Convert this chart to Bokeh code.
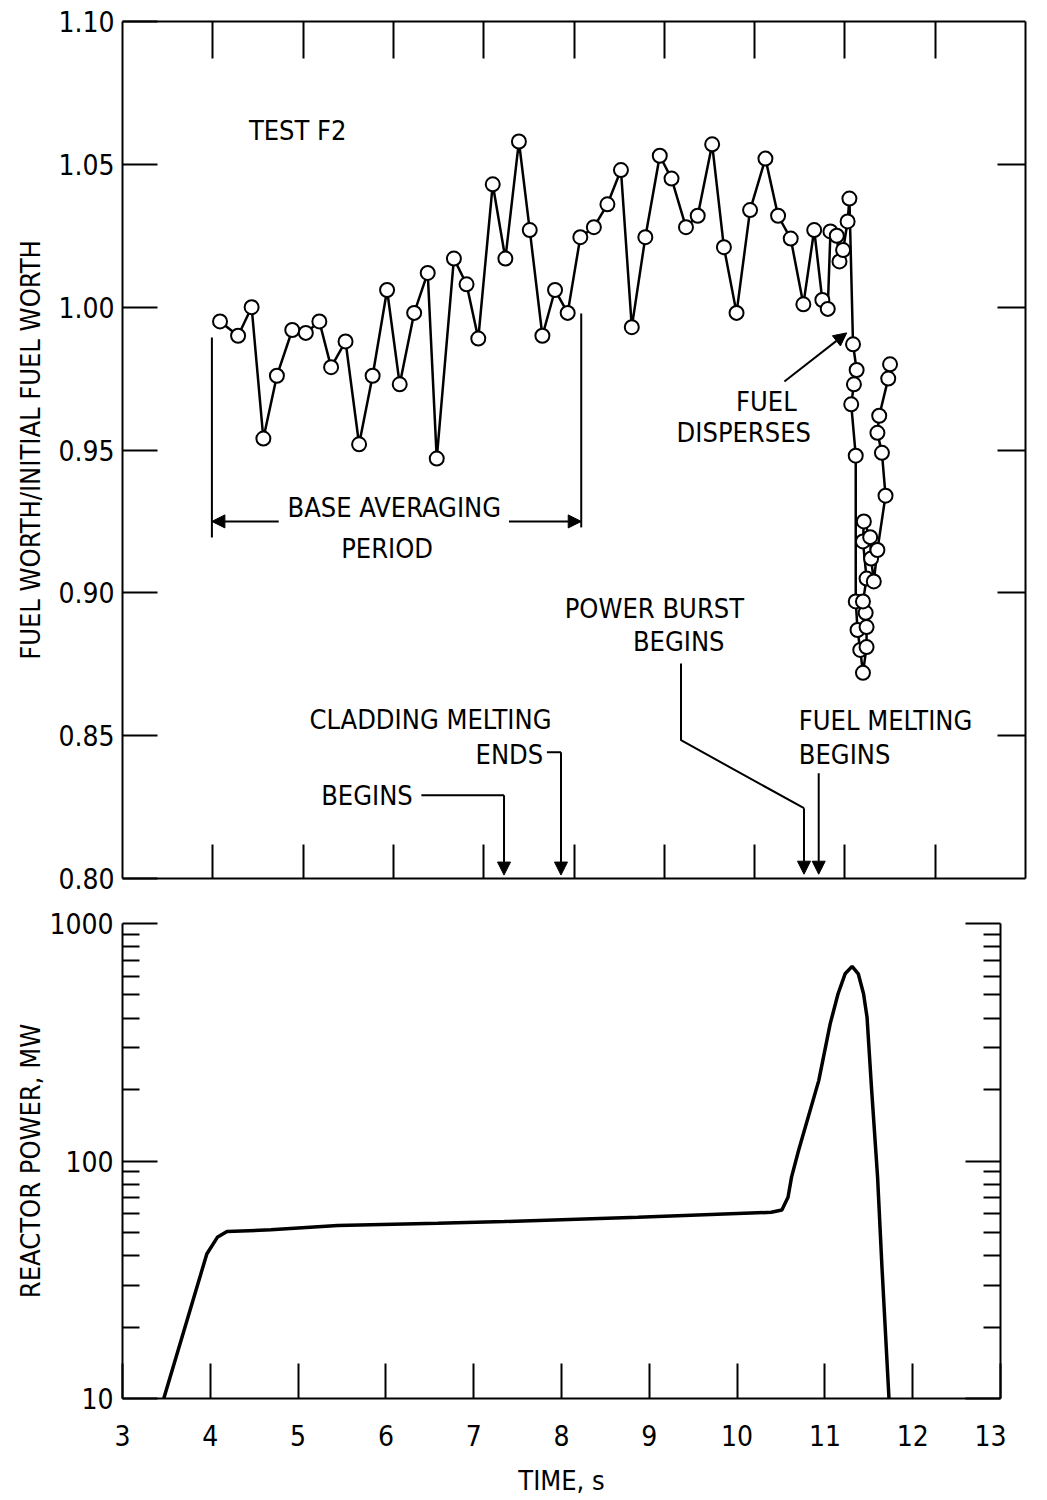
from bokeh.plotting import figure
from bokeh.models import (LinearAxis, LogAxis, FixedTicker, Range1d, Label, Arrow,
                          NormalHead, NumeralTickFormatter, BasicTickFormatter)
from bokeh.layouts import column
from bokeh.embed import file_html
from bokeh.resources import INLINE

FONT = "Liberation Sans Narrow, DejaVu Sans Condensed, Liberation Sans"

# ---------------- data ----------------
time_worth = [4.08, 4.28, 4.43, 4.56, 4.71, 4.88, 5.03, 5.18, 5.31, 5.47,
              5.62, 5.77, 5.93, 6.07, 6.23, 6.38, 6.48, 6.67, 6.81, 6.94,
              7.10, 7.24, 7.39, 7.51, 7.65, 7.79, 7.93, 8.07, 8.22, 8.37,
              8.52, 8.64, 8.79, 8.95, 9.08, 9.24, 9.37, 9.53, 9.66, 9.80,
              9.95, 10.12, 10.26, 10.40, 10.54, 10.66, 10.75, 10.81, 10.84, 10.91,
              10.94, 10.98, 11.03, 11.05, 11.09, 11.13, 11.10, 11.07, 11.12, 11.12,
              11.14, 11.17, 11.20, 11.24, 11.24, 11.23, 11.20, 11.24, 11.20, 11.21,
              11.28, 11.29, 11.32, 11.36, 11.45, 11.41, 11.36, 11.38, 11.48, 11.50]
fuel_worth = [0.995, 0.990, 1.000, 0.954, 0.976, 0.992, 0.991, 0.995, 0.979, 0.988,
              0.952, 0.976, 1.006, 0.973, 0.998, 1.012, 0.947, 1.017, 1.008, 0.989,
              1.043, 1.017, 1.058, 1.027, 0.990, 1.006, 0.998, 1.0245, 1.028, 1.036,
              1.048, 0.993, 1.0245, 1.053, 1.045, 1.028, 1.032, 1.057, 1.021, 0.998,
              1.034, 1.052, 1.032, 1.024, 1.001, 1.027, 1.0025, 0.9994, 1.0265, 1.025,
              1.016, 1.020, 1.030, 1.038, 0.987, 0.978, 0.973, 0.966, 0.948, 0.897,
              0.887, 0.880, 0.872, 0.881, 0.888, 0.893, 0.897, 0.905, 0.918, 0.925,
              0.9195, 0.912, 0.904, 0.915, 0.934, 0.949, 0.956, 0.962, 0.975, 0.980]

time_power = [3.47, 3.96, 4.08, 4.19, 4.69, 5.45, 6.59, 7.35, 8.87, 10.39,
              10.51, 10.58, 10.62, 10.70, 10.93, 11.06, 11.15, 11.23, 11.31, 11.38,
              11.44, 11.48, 11.53, 11.60, 11.65, 11.73]
reactor_power = [10, 40.6, 47.7, 50.5, 51.3, 53.5, 54.7, 55.6, 57.9, 60.8,
                 62.2, 70.4, 85.5, 110.7, 218, 378, 506, 614, 660, 614,
                 506, 403, 205, 85.5, 35.7, 10]

time_ticks = [3, 4, 5, 6, 7, 8, 9, 10, 11, 12, 13]
inner_time_ticks = [4, 5, 6, 7, 8, 9, 10, 11, 12]
worth_ticks = [0.80, 0.85, 0.90, 0.95, 1.00, 1.05, 1.10]
power_ticks = [10, 100, 1000]
power_minor_ticks = [20, 30, 40, 50, 60, 70, 80, 90, 200, 300, 400, 500, 600, 700, 800, 900]

LBL = "27px"


def style(ax, labels=True, major=35, minor=0):
    ax.axis_line_color = "black"
    ax.axis_line_width = 2
    ax.major_tick_in = major
    ax.major_tick_out = 0
    ax.major_tick_line_width = 2
    ax.major_tick_line_color = "black"
    ax.minor_tick_in = minor
    ax.minor_tick_out = 0
    ax.minor_tick_line_width = 2
    ax.minor_tick_line_color = "black"
    ax.major_label_text_font = FONT
    ax.major_label_text_color = "black"
    ax.axis_label_text_font = FONT
    ax.axis_label_text_font_style = "normal"
    ax.axis_label_text_font_size = LBL
    ax.axis_label_text_color = "black"
    if labels:
        ax.major_label_text_font_size = "28px"
    else:
        ax.major_label_text_font_size = "0px"
        ax.major_label_text_alpha = 0
        ax.major_label_standoff = 0


# ---------------- top panel ----------------
p1 = figure(frame_width=903, frame_height=857, x_range=Range1d(3, 13),
            y_range=Range1d(0.80, 1.10), output_backend="svg", toolbar_location=None,
            x_axis_location=None, y_axis_location=None,
            min_border_left=122, min_border_top=21, min_border_bottom=25, min_border_right=10)
p1.outline_line_color = None
p1.grid.grid_line_color = None

ax = LinearAxis(ticker=FixedTicker(ticks=worth_ticks),
                formatter=NumeralTickFormatter(format="0.00"),
                axis_label="FUEL WORTH/INITIAL FUEL WORTH")
style(ax)
ax.major_label_standoff = 8
ax.axis_label_standoff = 9
p1.add_layout(ax, "left")

ax = LinearAxis(ticker=FixedTicker(ticks=worth_ticks[1:-1]))
style(ax, labels=False, major=28)
p1.add_layout(ax, "right")

ax = LinearAxis(ticker=FixedTicker(ticks=inner_time_ticks))
style(ax, labels=False, major=34)
p1.add_layout(ax, "below")

ax = LinearAxis(ticker=FixedTicker(ticks=inner_time_ticks))
style(ax, labels=False, major=37)
p1.add_layout(ax, "above")

p1.line(time_worth, fuel_worth, line_color="black", line_width=2.5)
p1.scatter(time_worth, fuel_worth, marker="circle", size=14, fill_color="white",
           line_color="black", line_width=2)


def txt(p, x, y, s, align="left"):
    p.add_layout(Label(x=x, y=y, text=s, text_font=FONT, text_font_size=LBL,
                       text_align=align, text_baseline="middle", text_color="black"))


def arrow(p, x0, y0, x1, y1):
    p.add_layout(Arrow(end=NormalHead(size=13, fill_color="black", line_color="black"),
                       x_start=x0, y_start=y0, x_end=x1, y_end=y1,
                       line_color="black", line_width=2))


txt(p1, 4.40, 1.062, "TEST F2")
txt(p1, 6.01, 0.930, "BASE AVERAGING", "center")
txt(p1, 5.93, 0.9156, "PERIOD", "center")
p1.segment(x0=[3.99, 8.08], y0=[0.9894, 0.9978], x1=[3.99, 8.08], y1=[0.9194, 0.9229],
           line_color="black", line_width=2)
arrow(p1, 4.73, 0.925, 3.99, 0.925)
arrow(p1, 7.28, 0.925, 8.08, 0.925)

txt(p1, 10.13, 0.967, "FUEL", "center")
txt(p1, 9.88, 0.956, "DISPERSES", "center")
arrow(p1, 10.33, 0.974, 11.02, 0.991)

txt(p1, 8.89, 0.8946, "POWER BURST", "center")
txt(p1, 9.16, 0.883, "BEGINS", "center")
p1.line([9.185, 9.185, 10.547], [0.8753, 0.8484, 0.8246], line_color="black", line_width=2)
arrow(p1, 10.547, 0.8246, 10.547, 0.8015)

txt(p1, 10.49, 0.8554, "FUEL MELTING")
txt(p1, 10.49, 0.8435, "BEGINS")
arrow(p1, 10.71, 0.8368, 10.71, 0.8015)

txt(p1, 5.07, 0.8557, "CLADDING MELTING")
txt(p1, 6.91, 0.8435, "ENDS")
p1.line([7.70, 7.856], [0.8442, 0.8442], line_color="black", line_width=2)
arrow(p1, 7.856, 0.8442, 7.856, 0.8012)
txt(p1, 5.20, 0.8291, "BEGINS")
p1.line([6.31, 7.225], [0.8291, 0.8291], line_color="black", line_width=2)
arrow(p1, 7.225, 0.8291, 7.225, 0.8012)

# ---------------- bottom panel ----------------
p2 = figure(frame_width=878, frame_height=475, x_range=Range1d(3, 13),
            y_range=Range1d(10, 1000), y_axis_type="log", output_backend="svg",
            toolbar_location=None, x_axis_location=None, y_axis_location=None,
            min_border_left=118, min_border_top=20, min_border_bottom=100, min_border_right=10)
p2.outline_line_color = None
p2.grid.grid_line_color = None

ax = LogAxis(ticker=FixedTicker(ticks=power_ticks, minor_ticks=power_minor_ticks),
             formatter=BasicTickFormatter(), axis_label="REACTOR POWER, MW")
style(ax, major=35, minor=17)
ax.major_label_standoff = 9
ax.axis_label_standoff = 0
p2.add_layout(ax, "left")

ax = LogAxis(ticker=FixedTicker(ticks=power_ticks, minor_ticks=power_minor_ticks))
style(ax, labels=False, major=35, minor=17)
p2.add_layout(ax, "right")

ax = LinearAxis(ticker=FixedTicker(ticks=time_ticks), axis_label="TIME, s")
style(ax, major=35)
ax.major_label_standoff = 26
ax.axis_label_standoff = 16
p2.add_layout(ax, "below")

p2.line(time_power, reactor_power, line_color="black", line_width=3.5)

layout = column(p1, p2)
open("out.html", "w").write(file_html(layout, INLINE))
